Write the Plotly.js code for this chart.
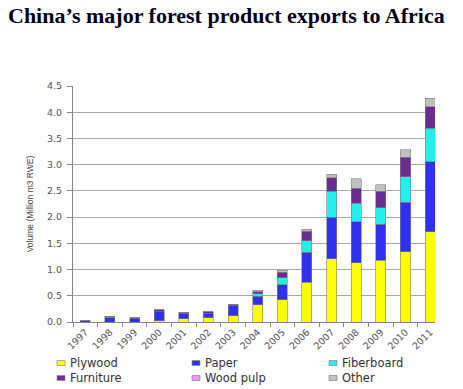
<!DOCTYPE html>
<html>
<head>
<meta charset="utf-8">
<script src="https://cdn.plot.ly/plotly-3.0.1.min.js"></script>
<style>html,body{margin:0;padding:0;background:#fff;}#chart{width:463px;height:389px;}</style>
</head>
<body>
<div id="chart"></div>
<script>
const years = ["1997","1998","1999","2000","2001","2002","2003","2004","2005","2006","2007","2008","2009","2010","2011"];
const plywood   = [0, 0, 0, 0.02, 0.06, 0.08, 0.12, 0.33, 0.42, 0.76, 1.21, 1.13, 1.18, 1.34, 1.72];
const paper     = [0.02, 0.09, 0.06, 0.18, 0.10, 0.08, 0.19, 0.16, 0.29, 0.57, 0.79, 0.78, 0.68, 0.94, 1.34];
const fiberboard= [0, 0, 0, 0, 0, 0, 0, 0.05, 0.13, 0.22, 0.49, 0.35, 0.32, 0.49, 0.63];
const furniture = [0.01, 0.02, 0.02, 0.03, 0.03, 0.04, 0.03, 0.04, 0.11, 0.18, 0.26, 0.29, 0.31, 0.37, 0.41];
const woodPulp  = [0, 0, 0, 0, 0, 0, 0, 0, 0, 0, 0, 0, 0, 0, 0];
const other     = [0, 0, 0, 0, 0, 0, 0, 0.03, 0.04, 0.04, 0.07, 0.18, 0.13, 0.14, 0.17];

const seriesNames  = ["Plywood", "Paper", "Fiberboard", "Furniture", "Wood pulp", "Other"];
const seriesValues = [plywood, paper, fiberboard, furniture, woodPulp, other];
const seriesColors = ["#ffff00", "#3030f0", "#22eeee", "#6b2c91", "#f09af0", "#c0c0c0"];

const traces = seriesNames.map((name, i) => ({
  type: "bar",
  name: name,
  x: years,
  y: seriesValues[i],
  marker: {color: seriesColors[i], line: {color: "#808080", width: name === "Wood pulp" ? 0 : 0.6}},
  hovertemplate: "%{x}: %{y}<extra>" + name + "</extra>",
  showlegend: false
}));

// Legend drawn as shapes + annotations (3 columns x 2 rows), built from the series arrays
const W = 463, H = 389, L = 73, R = 28, T = 86, B = 67;
const PW = W - L - R, PH = H - T - B;
const px = v => (v - L) / PW;
const py = v => (H - B - v) / PH;
const legCols = [57, 192, 329];
const legRows = [363, 378];
const shapes = [];
const annotations = [];
seriesNames.forEach((name, i) => {
  const cx = legCols[i % 3], cy = legRows[Math.floor(i / 3)];
  shapes.push({
    type: "rect", xref: "paper", yref: "paper",
    x0: px(cx), x1: px(cx + 8), y0: py(cy - 2.5), y1: py(cy + 2.5),
    fillcolor: seriesColors[i], line: {color: "#888", width: 0.7}
  });
  annotations.push({
    xref: "paper", yref: "paper", x: px(cx + 11), y: py(cy),
    xanchor: "left", yanchor: "middle", showarrow: false,
    text: name,
    font: {family: "DejaVu Sans, Arial, sans-serif", size: 11.5, color: "#333"}
  });
});

const tickFont = {family: "DejaVu Sans, Arial, sans-serif", size: 9.5, color: "#555"};

const layout = {
  width: W, height: H,
  paper_bgcolor: "#fff", plot_bgcolor: "#fff",
  margin: {l: L, r: R, t: T, b: B, autoexpand: false},
  barmode: "stack",
  bargap: 0.59,
  showlegend: false,
  title: {
    text: "<b>China’s major forest product exports to Africa</b>",
    font: {family: "Liberation Serif, Times New Roman, serif", size: 22, color: "#000018"},
    xref: "container", yref: "container",
    x: 8/463, xanchor: "left",
    y: 1 - 15/389, yanchor: "middle"
  },
  xaxis: {
    type: "category",
    range: [-0.5, 14.2],
    showgrid: false,
    showline: true, linecolor: "#888", linewidth: 1,
    ticks: "outside", tickson: "boundaries", ticklen: 4, tickcolor: "#888",
    tickangle: -45,
    tickfont: tickFont,
    fixedrange: true
  },
  yaxis: {
    range: [0, 4.5],
    dtick: 0.5,
    tickformat: ".1f",
    showgrid: true, gridcolor: "#a8a8a8", gridwidth: 1,
    zeroline: false,
    showline: true, linecolor: "#888", linewidth: 1,
    ticks: "outside", ticklen: 5, tickcolor: "#888",
    ticklabelstandoff: 3,
    tickfont: tickFont,
    title: {text: "Volume (Million m3 RWE)", font: {family: "Liberation Sans, Arial, sans-serif", size: 8.5, color: "#444"}, standoff: 12},
    fixedrange: true
  },
  shapes: shapes,
  annotations: annotations
};

Plotly.newPlot("chart", traces, layout, {displayModeBar: false});
</script>
</body>
</html>
